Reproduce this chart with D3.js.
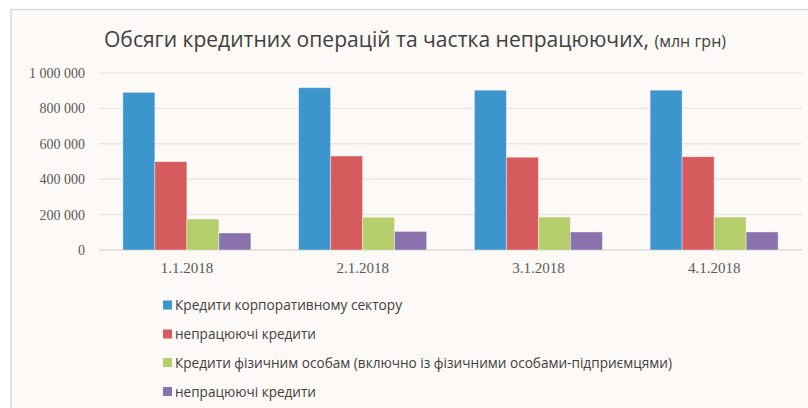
<!DOCTYPE html>
<html>
<head>
<meta charset="utf-8">
<script src="https://cdn.jsdelivr.net/npm/d3@7"></script>
<style>
  html, body { margin: 0; padding: 0; background: #ffffff; }
  svg { display: block; }
</style>
</head>
<body>
<script>
const categories = ["1.1.2018", "2.1.2018", "3.1.2018", "4.1.2018"];
const seriesNames = [
  "Кредити корпоративному сектору",
  "непрацюючі кредити",
  "Кредити фізичним особам (включно із фізичними особами-підприємцями)",
  "непрацюючі кредити"
];
const corporate = [891000, 917000, 903000, 903000];
const corporateNPL = [499000, 531000, 524000, 527000];
const retail = [175000, 185000, 186000, 186000];
const retailNPL = [96000, 105000, 102000, 102000];
const seriesValues = [corporate, corporateNPL, retail, retailNPL];
const yTicks = [0, 200000, 400000, 600000, 800000, 1000000];
const colors = ["#3C96CD", "#D65B5C", "#B3CE6B", "#8A73AD"];
const titleMain = "Обсяги кредитних операцій та частка непрацюючих,";
const titleUnit = "(млн грн)";

const W = 808, H = 408;
const svg = d3.select("body").append("svg").attr("width", W).attr("height", H);

// chart area frame
svg.append("rect").attr("x", 11).attr("y", 9.5).attr("width", W).attr("height", H)
  .attr("fill", "#fdf9f6").attr("stroke", "#d9d9d9").attr("stroke-width", 1.5);

// title (single text element, two sizes)
const title = svg.append("text").attr("x", 104).attr("y", 46.5).attr("fill", "#404040")
  .attr("font-family", "'Open Sans', 'Noto Sans', sans-serif")
  .attr("textLength", 622).attr("lengthAdjust", "spacingAndGlyphs");
title.append("tspan").attr("font-size", 21).text(titleMain + " ");
title.append("tspan").attr("font-size", 16).text(titleUnit);

const plot = { left: 99, right: 802, top: 73, bottom: 250 };

const y = d3.scaleLinear().domain([0, 1000000]).range([plot.bottom, plot.top]);
const x0 = d3.scaleBand().domain(categories).range([plot.left, plot.right]).padding(0);
const x1 = d3.scaleBand().domain(d3.range(seriesNames.length))
  .range([0, x0.bandwidth()]).paddingInner(0).paddingOuter(0.746);

// gridlines
svg.append("g").selectAll("line").data(yTicks).join("line")
  .attr("x1", plot.left).attr("x2", plot.right)
  .attr("y1", d => y(d)).attr("y2", d => y(d))
  .attr("stroke", d => d === 0 ? "#dcdad8" : "#ebe8e6").attr("stroke-width", 1.5);

// y axis labels
const yAxis = d3.axisLeft(y).tickValues(yTicks).tickSize(0).tickPadding(0)
  .tickFormat(d => d3.format(",")(d).replace(/,/g, " "));
const gy = svg.append("g").attr("transform", `translate(85,0)`).call(yAxis);
gy.select(".domain").remove();
gy.selectAll("text").attr("font-family", "'Liberation Serif', 'DejaVu Serif', serif")
  .attr("font-size", 14).attr("fill", "#595959");

// x axis labels
const xAxis = d3.axisBottom(x0).tickSize(0).tickPadding(0);
const gx = svg.append("g").attr("transform", `translate(0,262)`).call(xAxis);
gx.select(".domain").remove();
gx.selectAll("text").attr("font-family", "'Liberation Serif', 'DejaVu Serif', serif")
  .attr("font-size", 15).attr("fill", "#595959");

// bars
const groups = svg.append("g").selectAll("g").data(categories).join("g")
  .attr("transform", d => `translate(${x0(d)},0)`);
groups.selectAll("rect")
  .data((c, ci) => seriesValues.map((vals, si) => ({ si, v: vals[ci] })))
  .join("rect")
  .attr("x", d => x1(d.si))
  .attr("width", x1.bandwidth())
  .attr("y", d => y(d.v))
  .attr("height", d => y(0) - y(d.v))
  .attr("fill", d => colors[d.si])
  .attr("stroke", "#ffffff").attr("stroke-opacity", 0.5).attr("stroke-width", 0.8);

// legend
const legendY = [305, 334, 362.5, 391.5];
const legendLen = [227, 141, 497, 141];
const lg = svg.append("g").selectAll("g").data(seriesNames).join("g")
  .attr("transform", (d, i) => `translate(163,${legendY[i]})`);
lg.append("rect").attr("x", 0).attr("y", -4.5).attr("width", 9).attr("height", 9)
  .attr("fill", (d, i) => colors[i]);
lg.append("text").attr("x", 12).attr("y", 5)
  .attr("font-family", "'Open Sans', 'Noto Sans', sans-serif")
  .attr("font-size", 14).attr("fill", "#404040")
  .attr("textLength", (d, i) => legendLen[i]).attr("lengthAdjust", "spacingAndGlyphs")
  .text(d => d);
</script>
</body>
</html>
